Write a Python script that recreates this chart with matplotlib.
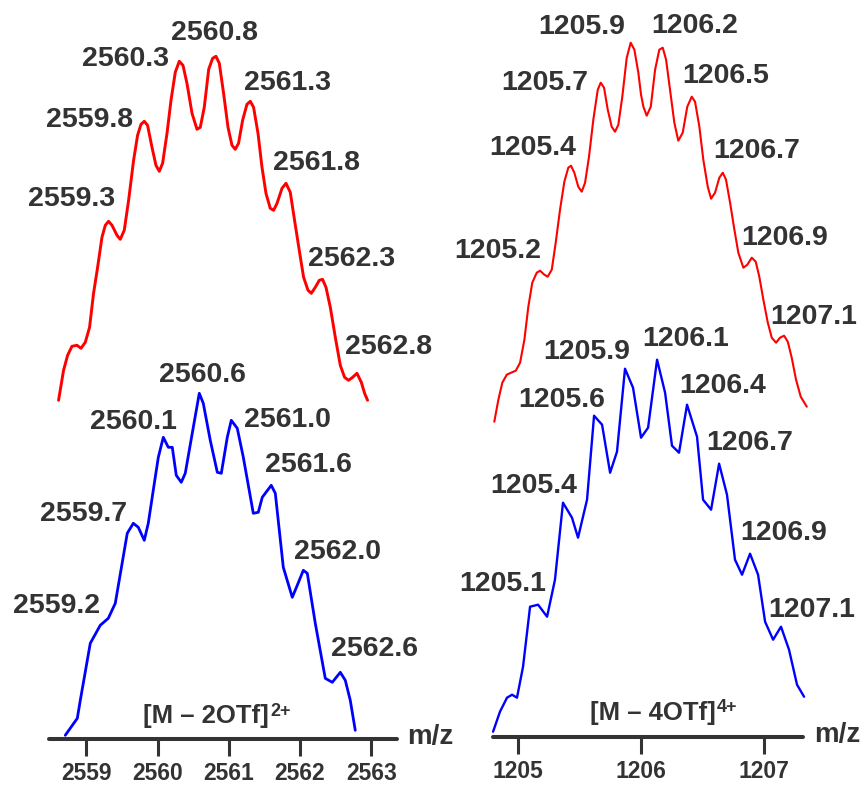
import matplotlib
matplotlib.use('Agg')
import matplotlib.pyplot as plt

plt.rcParams['font.family'] = ['Liberation Sans', 'DejaVu Sans']

TEXT = '#333333'
W, H = 867, 785

# ---------------- data: left panel, [M - 2OTf]2+ ----------------
left_ticks = [2559, 2560, 2561, 2562, 2563]
left_ion = ('[M – 2OTf]', '2+')

# simulated (red) envelope: m/z and intensity (arb. units)
left_sim_mz = [2558.611, 2558.681, 2558.738, 2558.799, 2558.869, 2558.926, 2558.986, 2559.046,
               2559.102, 2559.159, 2559.220, 2559.267, 2559.313, 2559.361, 2559.431, 2559.477,
               2559.533, 2559.594, 2559.664, 2559.720, 2559.768, 2559.814, 2559.860, 2559.922,
               2559.978, 2560.025, 2560.071, 2560.133, 2560.189, 2560.249, 2560.305, 2560.357,
               2560.413, 2560.484, 2560.554, 2560.600, 2560.656, 2560.718, 2560.773, 2560.820,
               2560.867, 2560.927, 2560.989, 2561.045, 2561.091, 2561.137, 2561.194, 2561.255,
               2561.302, 2561.348, 2561.410, 2561.466, 2561.522, 2561.582, 2561.629, 2561.677,
               2561.747, 2561.803, 2561.863, 2561.923, 2561.989, 2562.050, 2562.112, 2562.158,
               2562.214, 2562.270, 2562.316, 2562.364, 2562.425, 2562.495, 2562.565, 2562.625,
               2562.681, 2562.738, 2562.799, 2562.860, 2562.906, 2562.948]
left_sim_int = [339, 369, 384, 393, 394, 391, 397, 412,
                446, 472, 502, 514, 518, 514, 504, 500,
                509, 539, 579, 604, 615, 618, 614, 592,
                574, 568, 576, 606, 639, 667, 678, 674,
                656, 626, 610, 612, 632, 670, 681, 683,
                676, 646, 612, 594, 590, 596, 619, 635,
                638, 632, 606, 572, 546, 531, 529, 536,
                551, 556, 547, 519, 489, 462, 449, 446,
                452, 459, 460, 452, 432, 402, 374, 362,
                359, 362, 366, 357, 346, 339]

# experimental (blue) spectrum
left_exp_mz = [2558.705, 2558.874, 2558.916, 2559.056, 2559.196, 2559.309, 2559.407, 2559.575,
               2559.660, 2559.730, 2559.814, 2559.870, 2559.940, 2560.011, 2560.081, 2560.151,
               2560.207, 2560.263, 2560.333, 2560.389, 2560.502, 2560.586, 2560.642, 2560.740,
               2560.839, 2560.895, 2560.979, 2561.035, 2561.119, 2561.204, 2561.344, 2561.414,
               2561.470, 2561.596, 2561.653, 2561.765, 2561.891, 2561.961, 2562.046, 2562.102,
               2562.214, 2562.354, 2562.453, 2562.565, 2562.635, 2562.705, 2562.775]
left_exp_int = [4, 21, 39, 96, 114, 121, 136, 206,
                216, 212, 199, 216, 249, 282, 302, 292,
                292, 264, 257, 266, 312, 346, 336, 299,
                267, 266, 302, 319, 311, 282, 226, 227,
                242, 254, 246, 172, 142, 154, 169, 166,
                116, 61, 57, 67, 59, 39, 9]

left_sim_labels = ['2559.3', '2559.8', '2560.3', '2560.8', '2561.3', '2561.8', '2562.3', '2562.8']
left_exp_labels = ['2559.2', '2559.7', '2560.1', '2560.6', '2561.0', '2561.6', '2562.0', '2562.6']

# ---------------- data: right panel, [M - 4OTf]4+ ----------------
right_ticks = [1205, 1206, 1207]
right_ion = ('[M – 4OTf]', '4+')

right_sim_mz = [1204.810, 1204.843, 1204.875, 1204.911, 1204.946, 1204.984, 1205.019, 1205.054,
                1205.086, 1205.118, 1205.154, 1205.181, 1205.216, 1205.243, 1205.276, 1205.308,
                1205.343, 1205.378, 1205.410, 1205.432, 1205.459, 1205.491, 1205.519, 1205.546,
                1205.578, 1205.613, 1205.649, 1205.673, 1205.700, 1205.730, 1205.762, 1205.789,
                1205.816, 1205.848, 1205.884, 1205.916, 1205.946, 1205.978, 1206.000, 1206.019,
                1206.046, 1206.079, 1206.114, 1206.148, 1206.176, 1206.203, 1206.235, 1206.270,
                1206.302, 1206.338, 1206.375, 1206.411, 1206.438, 1206.473, 1206.505, 1206.541,
                1206.568, 1206.600, 1206.635, 1206.663, 1206.689, 1206.722, 1206.757, 1206.789,
                1206.830, 1206.862, 1206.898, 1206.930, 1206.959, 1206.992, 1207.028, 1207.060,
                1207.095, 1207.127, 1207.160, 1207.190, 1207.222, 1207.257, 1207.295, 1207.344]
right_sim_int = [315, 337, 354, 362, 364, 366, 374, 397,
                 430, 454, 464, 466, 462, 460, 467, 494,
                 527, 555, 569, 571, 564, 550, 545, 554,
                 580, 617, 647, 654, 649, 627, 610, 605,
                 612, 640, 679, 694, 687, 664, 642, 630,
                 621, 630, 667, 687, 689, 677, 647, 614,
                 596, 604, 630, 640, 635, 610, 577, 550,
                 538, 544, 559, 564, 557, 534, 507, 484,
                 469, 472, 479, 475, 460, 437, 414, 399,
                 394, 399, 401, 395, 379, 357, 340, 330]

right_exp_mz = [1204.800, 1204.856, 1204.913, 1204.954, 1204.994, 1205.043, 1205.100, 1205.165,
                1205.238, 1205.302, 1205.367, 1205.440, 1205.489, 1205.562, 1205.619, 1205.684,
                1205.749, 1205.805, 1205.870, 1205.935, 1206.000, 1206.057, 1206.130, 1206.195,
                1206.251, 1206.308, 1206.373, 1206.454, 1206.503, 1206.568, 1206.633, 1206.697,
                1206.762, 1206.819, 1206.884, 1206.949, 1207.006, 1207.071, 1207.135, 1207.200,
                1207.265, 1207.322]
right_exp_int = [5, 25, 39, 42, 39, 70, 130, 132,
                 120, 157, 234, 219, 199, 237, 321, 312,
                 264, 285, 368, 349, 299, 309, 377, 344,
                 291, 284, 332, 300, 237, 227, 273, 242,
                 177, 162, 183, 162, 115, 97, 110, 87,
                 52, 40]

right_sim_labels = ['1205.2', '1205.4', '1205.7', '1205.9', '1206.2', '1206.5', '1206.7', '1206.9', '1207.1']
right_exp_labels = ['1205.1', '1205.4', '1205.6', '1205.9', '1206.1', '1206.4', '1206.7', '1206.9', '1207.1']

# ---------------- label placement (data coordinates) ----------------
left_sim_lpos = [(2558.789, 540), (2559.042, 619), (2559.547, 680), (2560.796, 706),
                 (2561.821, 656), (2562.228, 576), (2562.719, 480), (2563.239, 392)]
left_exp_lpos = [(2558.579, 133), (2558.958, 225), (2559.660, 317), (2560.628, 364),
                 (2561.821, 319), (2562.116, 274), (2562.523, 187), (2563.042, 90)]
right_sim_lpos = [(1204.840, 486), (1205.124, 589), (1205.221, 654), (1205.521, 710),
                  (1206.438, 711), (1206.689, 661), (1206.941, 586), (1207.168, 499),
                  (1207.403, 420)]
right_exp_lpos = [(1204.881, 153), (1205.132, 251), (1205.359, 337), (1205.562, 385),
                  (1206.365, 398), (1206.665, 351), (1206.884, 294), (1207.160, 204),
                  (1207.387, 127)]

fig = plt.figure(figsize=(W / 100, H / 100), dpi=100)
fig.patch.set_facecolor('white')


def make_axes(x0, x1, ybase, xlim, ticks):
    ax = fig.add_axes([x0 / W, 1 - ybase / H, (x1 - x0) / W, ybase / H])
    ax.set_xlim(*xlim)
    ax.set_ylim(0, ybase)
    ax.patch.set_alpha(0)
    for s in ['top', 'right', 'left']:
        ax.spines[s].set_visible(False)
    ax.spines['bottom'].set_linewidth(2.9)
    ax.spines['bottom'].set_color(TEXT)
    ax.spines['bottom'].set_capstyle('round')
    ax.set_yticks([])
    ax.set_xticks(ticks)
    ax.set_xticklabels([str(t) for t in ticks])
    ax.tick_params(axis='x', direction='out', length=12.5, width=2.2, color=TEXT,
                   labelcolor=TEXT, labelsize=16.5, pad=4)
    for lab in ax.get_xticklabels():
        lab.set_fontweight('bold')
    return ax


def draw_panel(ax, sim_mz, sim_int, exp_mz, exp_int, sim_labels, sim_lpos,
               exp_labels, exp_lpos, ion, ion_pos, lw_sim, lw_exp):
    ax.plot(sim_mz, sim_int, color='#ff0000', lw=lw_sim, clip_on=False,
            solid_joinstyle='round', solid_capstyle='round')
    ax.plot(exp_mz, exp_int, color='#0000ff', lw=lw_exp, clip_on=False,
            solid_joinstyle='round', solid_capstyle='round')
    for lab, (x, y) in zip(sim_labels, sim_lpos):
        ax.text(x, y, lab, ha='center', va='center', fontsize=20.5, fontweight='bold',
                color=TEXT, clip_on=False)
    for lab, (x, y) in zip(exp_labels, exp_lpos):
        ax.text(x, y, lab, ha='center', va='center', fontsize=20.5, fontweight='bold',
                color=TEXT, clip_on=False)
    t = ax.text(ion_pos[0], ion_pos[1], ion[0], ha='center', va='center', fontsize=18.5,
                fontweight='bold', color=TEXT, clip_on=False)
    ax.annotate(ion[1], xy=(1, 1), xycoords=t, xytext=(1, 1), textcoords='offset points',
                ha='left', va='top', fontsize=13, fontweight='bold', color=TEXT)


axL = make_axes(49.3, 397.3, 739.3, (2558.481, 2563.365), left_ticks)
draw_panel(axL, left_sim_mz, left_sim_int, left_exp_mz, left_exp_int,
           left_sim_labels, left_sim_lpos, left_exp_labels, left_exp_lpos,
           left_ion, (2560.685, 23), 2.1, 2.0)

axR = make_axes(492.7, 802.7, 736.7, (1204.797, 1207.311), right_ticks)
draw_panel(axR, right_sim_mz, right_sim_int, right_exp_mz, right_exp_int,
           right_sim_labels, right_sim_lpos, right_exp_labels, right_exp_lpos,
           right_ion, (1206.094, 24), 1.5, 1.7)

fig.text(430 / W, 1 - 737 / H, 'm/z', ha='center', va='center', fontsize=20,
         fontweight='bold', color=TEXT)
fig.text(837 / W, 1 - 735 / H, 'm/z', ha='center', va='center', fontsize=20,
         fontweight='bold', color=TEXT)

fig.savefig('out.png', dpi=100, facecolor='white')
